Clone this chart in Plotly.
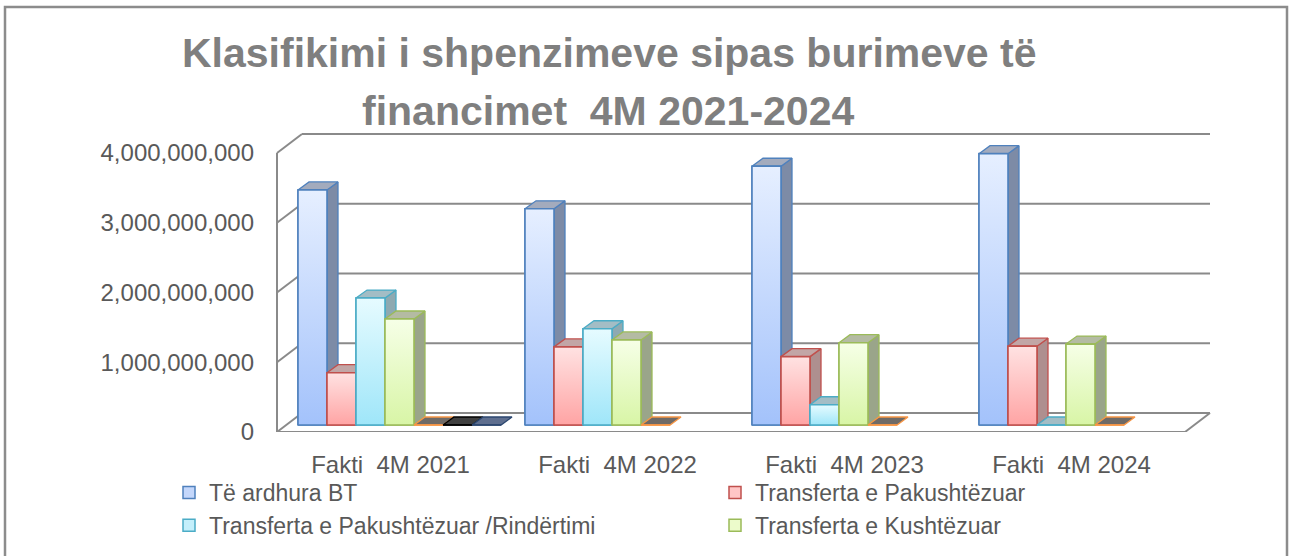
import plotly.graph_objects as go

# ---------------- data ----------------
categories = ["Fakti  4M 2021", "Fakti  4M 2022", "Fakti  4M 2023", "Fakti  4M 2024"]
te_ardhura_bt = [3.37e9, 3.10e9, 3.71e9, 3.89e9]
transferta_pakushtezuar = [0.75e9, 1.12e9, 0.98e9, 1.13e9]
transferta_rindertimi = [1.82e9, 1.38e9, 0.29e9, 0]
transferta_kushtezuar = [1.52e9, 1.22e9, 1.18e9, 1.16e9]
seria_5 = [0, 0, 0, 0]
seria_6 = [0, None, None, None]
seria_7 = [0, None, None, None]
y_ticks = [0, 1e9, 2e9, 3e9, 4e9]
title_line_1 = "Klasifikimi i shpenzimeve sipas burimeve të"
title_line_2 = "financimet  4M 2021-2024"

series = [
    # name, values, in legend, front, border, side, top, gradient bottom, gradient top
    ("Të ardhura BT", te_ardhura_bt, True, "#c4d7fb", "#4f81bd", "#7d8ba6", "#a3abbd", "#a3c2fb", "#e6efff"),
    ("Transferta e Pakushtëzuar", transferta_pakushtezuar, True, "#ffc6c6", "#c0504d", "#ae8f8f", "#c2a6a6", "#ffa4a4", "#ffe2e2"),
    ("Transferta e Pakushtëzuar /Rindërtimi", transferta_rindertimi, True, "#c4effb", "#4bacc6", "#8ea9b1", "#a3bdc5", "#9fe6f9", "#e6fbff"),
    ("Transferta e Kushtëzuar", transferta_kushtezuar, True, "#ecfbcb", "#9bbb59", "#9aa58a", "#b4bba3", "#d8f5a6", "#f6ffe7"),
    ("Seria 5", seria_5, False, "#7f7366", "#f79646", "#7f7366", "#6f6a66", None, None),
    ("Seria 6", seria_6, False, "#404040", "#000000", "#404040", "#404040", None, None),
    ("Seria 7", seria_7, False, "#5f6f8f", "#2c4770", "#5f6f8f", "#5f6f8f", None, None),
]

# ---------------- geometry (pixels) ----------------
W, H = 1290, 556
PL, PR, PT, PB = 277, 1210, 130, 432
PW, PH = PR - PL, PB - PT
CAT_PX = 227.0          # width of one category on the front plane
UNIT_PX = 69.75         # pixels per 1e9
WALL_DX, WALL_DY = 25, 19
BAR_DX, BAR_DY = 9, 7   # plane of the bars relative to the front plane
FACE_DX, FACE_DY = 11, 8
BARGAP = 24 / CAT_PX
FLOOR_RIGHT = 1185


def px_x(px):
    return (px - PL) / PW


def px_y(py):
    return (PB - py) / PH


def dy_val(px):
    return px / UNIT_PX * 1e9


x_front = [-0.5, -0.5 + PW / CAT_PX]
y_front = [0, dy_val(PH)]
x_bar = [x_front[0] - BAR_DX / CAT_PX, x_front[1] - BAR_DX / CAT_PX]
y_bar = [-dy_val(BAR_DY), y_front[1] - dy_val(BAR_DY)]

n = len(series)
bw = (1 - BARGAP) / n
fdx = FACE_DX / CAT_PX
fdy = dy_val(FACE_DY)

fig = go.Figure()
fig.add_trace(go.Scatter(x=[None], y=[None], showlegend=False, hoverinfo="skip"))

for i, (name, vals, leg, front, border, side, top, g0, g1) in enumerate(series):
    sx, sy, tx, ty = [], [], [], []
    for k, v in enumerate(vals):
        if v is None:
            continue
        L = k - (1 - BARGAP) / 2 + i * bw
        R = L + bw
        if v > 0:
            sx += [R, R + fdx, R + fdx, R, R, None]
            sy += [0, fdy, v + fdy, v, 0, None]
        tx += [L, L + fdx, R + fdx, R, L, None]
        ty += [v, v + fdy, v + fdy, v, v, None]
    if sx:
        fig.add_trace(go.Scatter(x=sx, y=sy, mode="lines", fill="toself", fillcolor=side,
                                 line=dict(color=border, width=1.3), showlegend=False,
                                 hoverinfo="skip", xaxis="x2", yaxis="y2", zorder=3 * i))
    fig.add_trace(go.Scatter(x=tx, y=ty, mode="lines", fill="toself", fillcolor=top,
                             line=dict(color=border, width=1.3), showlegend=False,
                             hoverinfo="skip", xaxis="x2", yaxis="y2", zorder=3 * i))
    fig.add_trace(go.Bar(x=list(range(len(categories))), y=vals, name=name, showlegend=leg,
                         marker=dict(color=front, line=dict(color=border, width=1.5)),
                         xaxis="x2", yaxis="y2", zorder=3 * i + 1))
    # vertical shading of each front face
    if g0 is not None:
        for k, v in enumerate(vals):
            if v is None or v <= 0:
                continue
            L = k - (1 - BARGAP) / 2 + i * bw
            R = L + bw
            fig.add_trace(go.Scatter(
                x=[L, R, R, L, L], y=[0, 0, v, v, 0], mode="lines", fill="toself",
                fillgradient=dict(type="vertical", start=0, stop=v,
                                  colorscale=[[0, g0], [1, g1]]),
                line=dict(color=border, width=1.6), showlegend=False, hoverinfo="skip",
                xaxis="x2", yaxis="y2", zorder=3 * i + 2))

LINE_C = "#8a8a8a"
shapes = []
for v in y_ticks:
    shapes.append(dict(type="line", xref="paper", yref="y", x0=px_x(PL + WALL_DX), x1=1,
                       y0=v + dy_val(WALL_DY), y1=v + dy_val(WALL_DY),
                       line=dict(color=LINE_C, width=2.2), layer="below"))
    shapes.append(dict(type="line", xref="paper", yref="y", x0=0, x1=px_x(PL + WALL_DX),
                       y0=v, y1=v + dy_val(WALL_DY), line=dict(color=LINE_C, width=2), layer="below"))
shapes.append(dict(type="line", xref="paper", yref="y", x0=0, x1=0, y0=0, y1=y_ticks[-1],
                   line=dict(color=LINE_C, width=2), layer="below"))
shapes.append(dict(type="line", xref="paper", yref="y", x0=0, x1=px_x(FLOOR_RIGHT), y0=0, y1=0,
                   line=dict(color=LINE_C, width=2), layer="below"))
shapes.append(dict(type="line", xref="paper", yref="y", x0=px_x(FLOOR_RIGHT), x1=1, y0=0,
                   y1=dy_val(WALL_DY), line=dict(color=LINE_C, width=2), layer="below"))
# chart frame
shapes.append(dict(type="rect", xref="paper", yref="paper", x0=px_x(5), x1=px_x(1287),
                   y0=px_y(600), y1=px_y(7), line=dict(color="#8c8c8c", width=2.5)))

FONT = "Liberation Sans, Arial, sans-serif"
TXT = "#595959"

fig.update_layout(
    width=W, height=H,
    margin=dict(l=PL, r=W - PR, t=PT, b=H - PB, pad=0, autoexpand=False),
    paper_bgcolor="white", plot_bgcolor="rgba(0,0,0,0)",
    barmode="group", bargap=BARGAP, bargroupgap=0,
    font=dict(family=FONT, color=TXT),
    xaxis=dict(range=x_front, tickvals=list(range(len(categories))), ticktext=categories,
               showgrid=False, zeroline=False, showline=False, ticks="", automargin=False,
               tickfont=dict(size=24, color=TXT), ticklabelstandoff=16, fixedrange=True),
    yaxis=dict(range=y_front, tickvals=y_ticks, tickformat=",", showgrid=False, zeroline=False,
               showline=False, ticks="", tickfont=dict(size=24, color=TXT), automargin=False,
               ticklabelstandoff=22, fixedrange=True),
    xaxis2=dict(range=x_bar, overlaying="x", visible=False, fixedrange=True, automargin=False),
    yaxis2=dict(range=y_bar, overlaying="y", visible=False, fixedrange=True, automargin=False),
    shapes=shapes,
    legend=dict(orientation="h", x=px_x(169), y=px_y(471), xanchor="left", yanchor="top",
                entrywidth=501, font=dict(size=23, color=TXT), bgcolor="rgba(0,0,0,0)",
                traceorder="normal"),
    annotations=[
        dict(text=title_line_1, xref="paper", yref="paper", x=px_x(609), y=px_y(53),
             xanchor="center", yanchor="middle", showarrow=False,
             font=dict(family=FONT, size=41, color="#7f7f7f", weight="bold")),
        dict(text=title_line_2, xref="paper", yref="paper", x=px_x(608), y=px_y(111),
             xanchor="center", yanchor="middle", showarrow=False,
             font=dict(family=FONT, size=41, color="#7f7f7f", weight="bold")),
    ],
)

fig.write_html("out.html", config={"displayModeBar": False},
               post_script="document.body.style.margin='0px';")
